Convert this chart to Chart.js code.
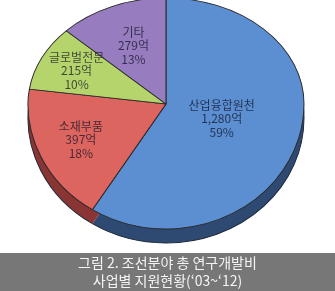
<!DOCTYPE html>
<html>
<head>
<meta charset="utf-8">
<script src="https://cdn.jsdelivr.net/npm/chart.js@4.4.0/dist/chart.umd.min.js"></script>
<style>
html, body { margin: 0; padding: 0; background: #fff; }
#wrap { position: relative; width: 335px; height: 291px; overflow: hidden; }
#pie { position: absolute; left: 0; top: 0; }
#caption {
    position: absolute; left: 0; top: 253px; width: 335px; height: 38px;
    background: #777; color: #f4f4f4; text-align: center;
    font-family: "Noto Sans CJK KR", sans-serif; font-size: 14px; line-height: 18px;
    padding-top: 0; box-sizing: border-box;
}
</style>
</head>
<body>
<div id="wrap">
    <canvas id="pie" width="335" height="291"></canvas>
    <div id="caption">그림 2. 조선분야 총 연구개발비<br>사업별 지원현황(‘03~‘12)</div>
</div>
<script>
const categories = ['산업융합원천', '소재부품', '글로벌전문', '기타'];
const amounts = [1280, 397, 215, 279]; // 억원
const topColors = ['#5b8fd1', '#dc6560', '#b5d46b', '#977dbf'];
const sideColors = ['#2f4a72', '#8a3434', '#6f8a3a', '#5a4680'];
const labelRadius = [0.42, 0.68, 0.72, 0.6];

// fake 3D: far half of the ellipse is flatter than the near half
const view = { cx: 166, cy: 104, rx: 138, ryTop: 106, ryBottom: 125, depth: 14 };

function setView(ctx, arc, ry, shift) {
    ctx.translate(view.cx, view.cy + shift);
    ctx.scale(view.rx / arc.outerRadius, ry / arc.outerRadius);
    ctx.translate(-arc.x, -arc.y);
}

function clipHalf(ctx, chart, top) {
    ctx.beginPath();
    if (top) ctx.rect(0, 0, chart.width, view.cy);
    else ctx.rect(0, view.cy, chart.width, chart.height - view.cy);
    ctx.clip();
}

const pie3d = {
    id: 'pie3d',
    beforeDatasetsDraw(chart) {
        const ctx = chart.ctx;
        const arcs = chart.getDatasetMeta(0).data;

        // side wall
        ctx.save();
        clipHalf(ctx, chart, false);
        setView(ctx, arcs[0], view.ryBottom, view.depth);
        arcs.forEach((arc, i) => {
            ctx.beginPath();
            ctx.moveTo(arc.x, arc.y);
            ctx.arc(arc.x, arc.y, arc.outerRadius, arc.startAngle, arc.endAngle);
            ctx.closePath();
            ctx.fillStyle = sideColors[i];
            ctx.fill();
            ctx.beginPath();
            ctx.arc(arc.x, arc.y, arc.outerRadius, arc.startAngle, arc.endAngle);
            ctx.strokeStyle = '#1e2a3a';
            ctx.lineWidth = 1;
            ctx.stroke();
        });
        ctx.restore();

        // top face
        [true, false].forEach(top => {
            ctx.save();
            clipHalf(ctx, chart, top);
            setView(ctx, arcs[0], top ? view.ryTop : view.ryBottom, 0);
            arcs.forEach(arc => arc.draw(ctx));
            ctx.restore();
        });
        return false;
    },
    afterDraw(chart) {
        const ctx = chart.ctx;
        const arcs = chart.getDatasetMeta(0).data;
        const total = amounts.reduce((a, b) => a + b, 0);
        ctx.save();
        ctx.font = '12px "Noto Sans CJK KR"';
        ctx.fillStyle = 'rgba(15,15,35,0.72)';
        ctx.textAlign = 'center';
        ctx.textBaseline = 'middle';
        arcs.forEach((arc, i) => {
            const mid = (arc.startAngle + arc.endAngle) / 2;
            const r = labelRadius[i] * arc.outerRadius;
            const ux = Math.cos(mid) * r;
            const uy = Math.sin(mid) * r;
            const x = view.cx + ux * view.rx / arc.outerRadius;
            const y = view.cy + uy * (uy < 0 ? view.ryTop : view.ryBottom) / arc.outerRadius;
            const lines = [
                categories[i],
                amounts[i].toLocaleString('en-US') + '억',
                Math.round(amounts[i] / total * 100) + '%'
            ];
            lines.forEach((t, k) => ctx.fillText(t, x, y + (k - 1) * 13.5));
        });
        ctx.restore();
    }
};

new Chart(document.getElementById('pie'), {
    type: 'pie',
    data: {
        labels: categories,
        datasets: [{
            data: amounts,
            backgroundColor: topColors,
            borderColor: '#2a2a2a',
            borderWidth: 1
        }]
    },
    options: {
        responsive: false,
        animation: false,
        layout: { padding: { left: 28, right: 31, top: 0, bottom: 15 } },
        plugins: {
            legend: { display: false },
            tooltip: { enabled: false }
        }
    },
    plugins: [pie3d]
});
</script>
</body>
</html>
